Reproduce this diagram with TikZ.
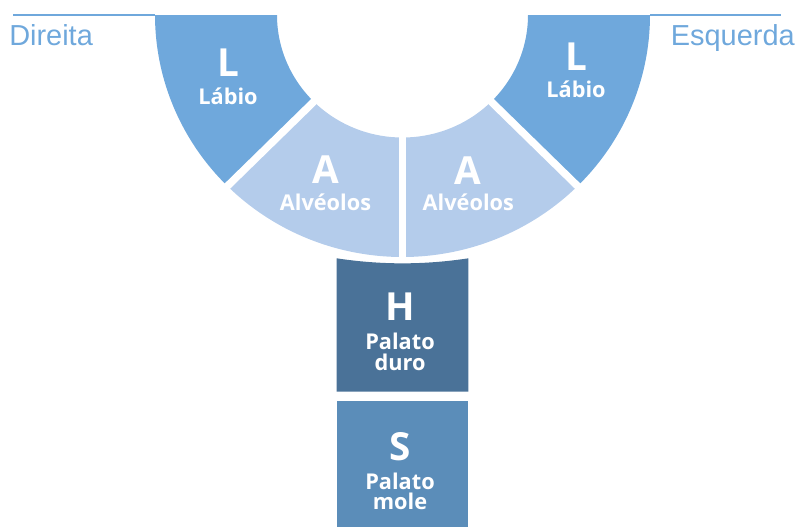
\documentclass[tikz,border=0pt]{standalone}
\usepackage{fontspec}
\setmainfont{Liberation Sans}
\newfontfamily\boxfont{Open Sans}
\definecolor{labio}{HTML}{6FA8DC}
\definecolor{alv}{HTML}{B4CCEB}
\definecolor{hard}{HTML}{4A7298}
\definecolor{soft}{HTML}{5B8DB9}
\definecolor{linec}{HTML}{6FA8DC}
\begin{document}
\begin{tikzpicture}[x=0.75pt,y=0.75pt,
  big/.style={font=\boxfont\bfseries\fontsize{29}{29}\selectfont, text=white, anchor=base, inner sep=0pt},
  word/.style={font=\boxfont\bfseries\fontsize{16.3}{16.3}\selectfont, text=white, anchor=base, inner sep=0pt},
  side/.style={font=\fontsize{21.7}{21.7}\selectfont, text=linec, inner sep=0pt},
  gapline/.style={white, line width=5.6pt},
  rule/.style={linec, line width=1.1pt}]
\useasboundingbox (0,0) rectangle (800,-526);
\begin{scope}[shift={(402.5,-15)}]
  \coordinate (ctr) at (0,0);
  \fill[labio] (180:247.5 and 242) arc[start angle=180,end angle=225,x radius=247.5,y radius=242]
     -- (225:125.5 and 122.5) arc[start angle=225,end angle=180,x radius=125.5,y radius=122.5] -- cycle;
  \fill[alv] (225:247.5 and 242) arc[start angle=225,end angle=270,x radius=247.5,y radius=242]
     -- (270:125.5 and 122.5) arc[start angle=270,end angle=225,x radius=125.5,y radius=122.5] -- cycle;
  \fill[alv] (270:247.5 and 242) arc[start angle=270,end angle=315,x radius=247.5,y radius=242]
     -- (315:125.5 and 122.5) arc[start angle=315,end angle=270,x radius=125.5,y radius=122.5] -- cycle;
  \fill[labio] (315:247.5 and 242) arc[start angle=315,end angle=360,x radius=247.5,y radius=242]
     -- (360:125.5 and 122.5) arc[start angle=360,end angle=315,x radius=125.5,y radius=122.5] -- cycle;
  \coordinate (g1) at (225:260 and 254);
  \coordinate (g2) at (270:250 and 244);
  \coordinate (g3) at (315:260 and 254);
  \draw[gapline] (ctr) -- (g1);
  \draw[gapline] (ctr) -- (g2);
  \draw[gapline] (ctr) -- (g3);
\end{scope}
% boxes
\fill[hard] (336.7,-258.3) .. controls (380.6,-265) and (424.4,-265) .. (468.3,-258.3)
   -- (468.3,-391.7) -- (336.7,-391.7) -- cycle;
\fill[soft] (336.7,-400.7) rectangle (468.3,-530);
% side rules
\coordinate (la) at (13,-15);
\coordinate (lb) at (155,-15);
\coordinate (ra) at (650,-15);
\coordinate (rb) at (781,-15);
\draw[rule] (la) -- (lb);
\draw[rule] (ra) -- (rb);
\node[side, anchor=base west] (dir) at (9,-45) {Direita};
\node[side, anchor=base east] (esq) at (795,-45) {Esquerda};
% labels
\node[big] (l1) at (228,-76) {L};
\node[word] (l1t) at (228,-104) {Lábio};
\node[big] (l2) at (576,-70) {L};
\node[word] (l2t) at (576,-97) {Lábio};
\node[big] (a1) at (325.5,-183.5) {A};
\node[word] (a1t) at (325.5,-210) {Alvéolos};
\node[big] (a2) at (468.3,-184) {A};
\node[word] (a2t) at (468.3,-210) {Alvéolos};
\node[big] (h) at (400,-320) {H};
\node[word] (h1) at (400,-349) {Palato};
\node[word] (h2) at (400,-370) {duro};
\node[big] (s) at (400,-460) {S};
\node[word] (s1) at (400,-489) {Palato};
\node[word] (s2) at (400,-509) {mole};
\end{tikzpicture}
\end{document}
